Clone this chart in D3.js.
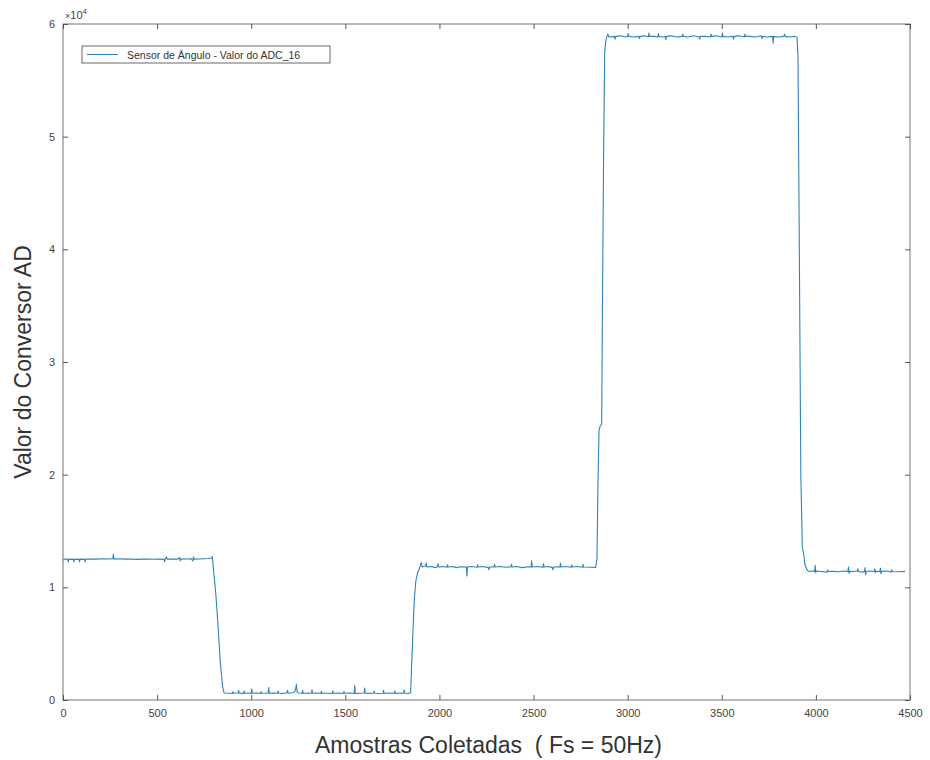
<!DOCTYPE html>
<html>
<head>
<meta charset="utf-8">
<script src="https://cdn.jsdelivr.net/npm/d3@7"></script>
<style>
  body { margin: 0; background: #fff; }
  text { font-family: "Liberation Sans", Arial, sans-serif; }
</style>
</head>
<body>
<svg id="chart"></svg>
<script>
// [sample index, ADC value] pairs
const leituras = [
  // first plateau ~12500
  [0, 12400], [8, 12500], [25, 12500], [28, 12250], [31, 12480], [55, 12500], [58, 12250], [61, 12480],
  [85, 12500], [88, 12260], [91, 12500], [115, 12480], [118, 12270], [121, 12500], [150, 12520], [180, 12500],
  [210, 12540], [240, 12520], [265, 12550], [268, 12950], [271, 12500], [300, 12540], [330, 12500], [360, 12520],
  [390, 12480], [420, 12500], [450, 12520], [480, 12490], [510, 12500], [537, 12480], [540, 12250], [543, 12520],
  [550, 12700], [553, 12500], [580, 12520], [610, 12500], [620, 12650], [623, 12350], [626, 12500], [650, 12520],
  [680, 12540], [690, 12350], [693, 12700], [696, 12500], [720, 12520], [750, 12540], [770, 12560], [790, 12600],
  [793, 12750],
  // fall
  [800, 11500], [812, 9400], [822, 7000], [835, 3500], [848, 1200],
  // low plateau ~600
  [856, 620], [880, 600], [900, 580], [903, 750], [906, 600], [930, 620], [933, 850], [936, 600], [960, 590],
  [963, 800], [966, 600], [990, 610], [1000, 580], [1003, 1000], [1006, 600], [1030, 620], [1050, 590], [1053, 750],
  [1056, 620], [1080, 600], [1090, 640], [1093, 1100], [1096, 590], [1120, 620], [1140, 600], [1143, 800], [1146, 620],
  [1170, 580], [1190, 640], [1193, 850], [1196, 600], [1220, 650], [1230, 700], [1236, 1000], [1240, 1400], [1244, 700],
  [1250, 620], [1270, 600], [1273, 850], [1276, 580], [1300, 620], [1320, 600], [1323, 900], [1326, 600], [1350, 620],
  [1370, 580], [1373, 780], [1376, 600], [1400, 600], [1430, 580], [1433, 820], [1436, 600], [1460, 620], [1490, 580],
  [1493, 760], [1496, 600], [1520, 620], [1547, 600], [1550, 1300], [1553, 580], [1580, 600], [1600, 620], [1603, 1050],
  [1606, 600], [1630, 590], [1650, 620], [1653, 800], [1656, 600], [1680, 580], [1700, 600], [1703, 850], [1706, 580],
  [1730, 620], [1760, 600], [1763, 800], [1766, 580], [1790, 620], [1810, 600], [1813, 900], [1816, 600], [1835, 580],
  [1847, 650],
  // rise
  [1852, 3000], [1858, 5500], [1866, 8800], [1874, 10500], [1884, 11300], [1894, 11700], [1903, 12200],
  // second plateau ~11800
  [1908, 11800], [1925, 11900], [1930, 12150], [1933, 11800], [1960, 11850], [1975, 11750], [1990, 11820], [1993, 12100],
  [1996, 11800], [2020, 11850], [2040, 11780], [2043, 12000], [2046, 11800], [2070, 11850], [2090, 11750], [2110, 11820],
  [2143, 11800], [2146, 11000], [2149, 11800], [2170, 11850], [2200, 11780], [2203, 12000], [2206, 11800], [2230, 11850],
  [2260, 11750], [2263, 11550], [2266, 11800], [2290, 11820], [2293, 12050], [2296, 11800], [2320, 11850], [2350, 11780],
  [2380, 11820], [2383, 12050], [2386, 11800], [2410, 11850], [2440, 11750], [2470, 11820], [2487, 11800], [2490, 12350],
  [2493, 11800], [2520, 11850], [2550, 11780], [2553, 12100], [2556, 11800], [2580, 11850], [2600, 11750], [2603, 11550],
  [2606, 11800], [2630, 11820], [2640, 11800], [2643, 12150], [2646, 11800], [2670, 11850], [2700, 11780], [2703, 12000],
  [2706, 11800], [2730, 11850], [2760, 11780], [2763, 12050], [2766, 11800], [2800, 11780], [2830, 11760],
  // rise with shelf
  [2837, 12500], [2842, 19000], [2848, 24000], [2854, 24300], [2862, 24500], [2866, 35000], [2872, 48000], [2878, 57500],
  // top plateau ~58900
  [2884, 58500], [2890, 58900], [2895, 59100], [2900, 58850], [2930, 58900], [2933, 58650], [2936, 58900], [2960, 58950],
  [2990, 58850], [3000, 58900], [3003, 59150], [3006, 58900], [3030, 58850], [3060, 58900], [3063, 58700], [3066, 58900],
  [3090, 58950], [3110, 58850], [3113, 59200], [3116, 58900], [3140, 58900], [3160, 58850], [3163, 59150], [3166, 58900],
  [3190, 58850], [3200, 58900], [3203, 58600], [3206, 58900], [3230, 58950], [3260, 58850], [3290, 58900], [3293, 59100],
  [3296, 58900], [3320, 58850], [3350, 58950], [3380, 58850], [3383, 58650], [3386, 58900], [3410, 58900], [3440, 58850],
  [3443, 59100], [3446, 58900], [3470, 58950], [3500, 58850], [3503, 59200], [3506, 58900], [3530, 58850], [3560, 58900],
  [3563, 58650], [3566, 58900], [3590, 58950], [3620, 58850], [3623, 59100], [3626, 58900], [3650, 58900], [3680, 58850],
  [3710, 58950], [3713, 58700], [3716, 58900], [3740, 58850], [3770, 58900], [3773, 58300], [3776, 58900], [3800, 58850],
  [3830, 58900], [3833, 59100], [3836, 58900], [3860, 58850], [3890, 58900], [3900, 58800],
  // fall with small step
  [3905, 57000], [3912, 40000], [3920, 20000], [3928, 13500], [3935, 13000], [3942, 12000], [3955, 11500],
  // last plateau ~11400
  [3965, 11400], [3985, 11450], [3993, 11400], [3996, 11950], [3999, 11300], [4002, 11450], [4030, 11400], [4060, 11350],
  [4063, 11550], [4066, 11400], [4090, 11420], [4120, 11380], [4150, 11450], [4170, 11400], [4173, 11800], [4176, 11250],
  [4180, 11420], [4200, 11400], [4220, 11450], [4223, 11650], [4226, 11400], [4250, 11350], [4258, 11400], [4261, 11750],
  [4264, 11100], [4267, 11400], [4290, 11450], [4310, 11400], [4313, 11650], [4316, 11300], [4320, 11420], [4340, 11400],
  [4343, 11700], [4346, 11200], [4350, 11420], [4380, 11450], [4400, 11350], [4403, 11550], [4406, 11400], [4440, 11380],
  [4474, 11420]
];
const xTicks = [0, 500, 1000, 1500, 2000, 2500, 3000, 3500, 4000, 4500];
const yTicks = [0, 10000, 20000, 30000, 40000, 50000, 60000];
const legendLabel = "Sensor de \u00c2ngulo - Valor do ADC_16";

const width = 930, height = 760;
const margin = { top: 24, right: 20, bottom: 60, left: 63 };
const plotW = width - margin.left - margin.right;
const plotH = height - margin.top - margin.bottom;
const lineColor = "#2f84b6";

const svg = d3.select("#chart").attr("width", width).attr("height", height);

const x = d3.scaleLinear().domain([0, 4500]).range([margin.left, margin.left + plotW]);
const y = d3.scaleLinear().domain([0, 60000]).range([margin.top + plotH, margin.top]);

// frame
svg.append("rect")
  .attr("x", margin.left).attr("y", margin.top)
  .attr("width", plotW).attr("height", plotH)
  .attr("fill", "none").attr("stroke", "#8a8a8a").attr("stroke-width", 1.2);

const tickLen = 5;
const styleAxis = g => {
  g.select(".domain").remove();
  g.selectAll(".tick line").attr("stroke", "#555");
  g.selectAll(".tick text").attr("fill", "#444").attr("font-size", 11)
    .attr("font-family", "'Liberation Sans', Arial, sans-serif");
};

// bottom / left axes, ticks pointing inward
svg.append("g")
  .attr("transform", `translate(0,${margin.top + plotH})`)
  .call(d3.axisBottom(x).tickValues(xTicks).tickSizeInner(-tickLen).tickSizeOuter(0).tickPadding(9)
    .tickFormat(d3.format("d")))
  .call(styleAxis);

svg.append("g")
  .attr("transform", `translate(${margin.left},0)`)
  .call(d3.axisLeft(y).tickValues(yTicks).tickSizeInner(-tickLen).tickSizeOuter(0).tickPadding(8)
    .tickFormat(d => d / 10000))
  .call(styleAxis);

// mirrored ticks top / right
svg.append("g")
  .attr("transform", `translate(0,${margin.top})`)
  .call(d3.axisTop(x).tickValues(xTicks).tickSizeInner(-tickLen).tickSizeOuter(0).tickFormat(""))
  .call(styleAxis);

svg.append("g")
  .attr("transform", `translate(${margin.left + plotW},0)`)
  .call(d3.axisRight(y).tickValues(yTicks).tickSizeInner(-tickLen).tickSizeOuter(0).tickFormat(""))
  .call(styleAxis);

// exponent
const expo = svg.append("text")
  .attr("x", margin.left + 2).attr("y", margin.top - 5)
  .attr("font-size", 11).attr("fill", "#444");
expo.append("tspan").attr("font-size", 9).text("\u00d7");
expo.append("tspan").text("10");
expo.append("tspan").attr("dy", -5).attr("font-size", 8).text("4");

// signal
const line = d3.line().x(d => x(d[0])).y(d => y(d[1]));
svg.append("path")
  .datum(leituras)
  .attr("fill", "none")
  .attr("stroke", lineColor)
  .attr("stroke-width", 1.1)
  .attr("stroke-linejoin", "round")
  .attr("d", line);

// legend
const lg = svg.append("g").attr("transform", "translate(82,46)");
lg.append("rect").attr("width", 248).attr("height", 17)
  .attr("fill", "#fff").attr("stroke", "#444").attr("stroke-width", 0.8);
lg.append("line").attr("x1", 5).attr("x2", 36).attr("y1", 8.5).attr("y2", 8.5)
  .attr("stroke", lineColor).attr("stroke-width", 1.1);
lg.append("text").attr("x", 45).attr("y", 12.5)
  .attr("font-size", 10.5).attr("fill", "#333")
  .text(legendLabel);

// axis titles
svg.append("text")
  .attr("x", margin.left + plotW / 2 + 2).attr("y", 753)
  .attr("text-anchor", "middle")
  .attr("font-size", 23).attr("fill", "#333")
  .style("white-space", "pre")
  .text("Amostras Coletadas  ( Fs = 50Hz)");

svg.append("text")
  .attr("transform", `translate(31,${margin.top + plotH / 2}) rotate(-90)`)
  .attr("text-anchor", "middle")
  .attr("font-size", 23).attr("fill", "#333")
  .text("Valor do Conversor AD");
</script>
</body>
</html>
